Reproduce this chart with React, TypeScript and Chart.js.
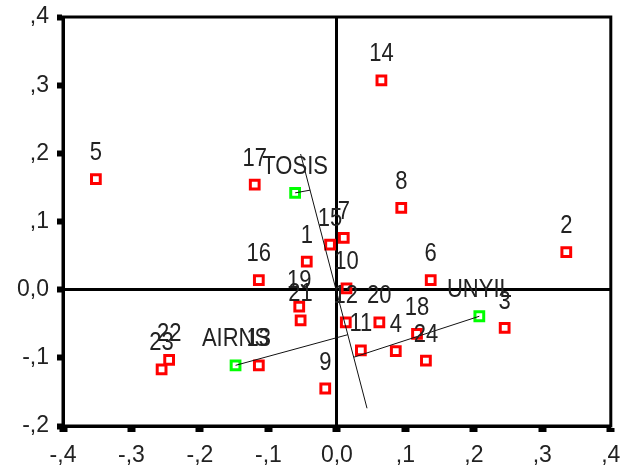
import React, { useEffect, useRef } from 'react';
import { Chart, registerables } from 'chart.js';

Chart.register(...registerables);

// Object scores (cases)
const caseLabels = ['5', '17', '14', '8', '2', '15', '7', '1', '16', '10', '6', '19', '21', '12', '20', '18', '3', '11', '4', '24', '22', '23', '13', '9'];
const caseDim1 = [-0.352, -0.120, 0.065, 0.094, 0.335, -0.010, 0.010, -0.044, -0.114, 0.014, 0.137, -0.055, -0.053, 0.013, 0.062, 0.117, 0.245, 0.035, 0.086, 0.130, -0.245, -0.256, -0.114, -0.017];
const caseDim2 = [0.162, 0.154, 0.307, 0.120, 0.055, 0.066, 0.076, 0.041, 0.014, 0.002, 0.014, -0.025, -0.045, -0.048, -0.048, -0.065, -0.056, -0.089, -0.090, -0.104, -0.103, -0.117, -0.111, -0.145];

// Variable points
const varLabels = ['TOSIS', 'AIRNS', 'UNYIL'];
const varDim1 = [-0.061, -0.148, 0.208];
const varDim2 = [0.142, -0.111, -0.039];

// Axis line and projection feet
const axisLineDim1 = [-0.053, 0.044];
const axisLineDim2 = [0.199, -0.174];
const footDim1 = [-0.039, 0.016, 0.025];
const footDim2 = [0.146, -0.066, -0.099];

// Tick labels
const xTickLabels = ['-,4', '-,3', '-,2', '-,1', '0,0', ',1', ',2', ',3', ',4'];
const yTickLabels = ['-,2', '-,1', '0,0', ',1', ',2', ',3', ',4'];

const FONT = '"Liberation Sans", Arial, sans-serif';

const labelPlugin = {
  id: 'pointTextLabels',
  afterDatasetsDraw(chart: any) {
    const ctx = chart.ctx;
    chart.data.datasets.forEach((ds: any, di: number) => {
      const labels: string[] | undefined = ds.textLabels;
      if (!labels) return;
      const meta = chart.getDatasetMeta(di);
      meta.data.forEach((el: any, i: number) => {
        ctx.save();
        ctx.translate(el.x, el.y - 19);
        ctx.scale(1, 1.15);
        ctx.font = `22px ${FONT}`;
        ctx.fillStyle = '#222';
        ctx.textAlign = 'center';
        ctx.textBaseline = 'alphabetic';
        ctx.fillText(labels[i], 0, 0);
        ctx.restore();
      });
    });
  },
};

const framePlugin = {
  id: 'frame',
  beforeDatasetsDraw(chart: any) {
    const { ctx, chartArea } = chart;
    ctx.save();
    ctx.strokeStyle = '#000';
    ctx.lineWidth = 3;
    ctx.strokeRect(chartArea.left, chartArea.top, chartArea.right - chartArea.left, chartArea.bottom - chartArea.top);
    ctx.restore();
  },
};

export default function App() {
  const canvasRef = useRef<HTMLCanvasElement | null>(null);

  useEffect(() => {
    if (!canvasRef.current) return;
    const lineStyle = {
      showLine: true,
      borderColor: '#111',
      borderWidth: 1,
      pointRadius: 0,
      pointHoverRadius: 0,
      fill: false,
    };
    const projections = varLabels.map((name, i) => ({
      label: name + ' projection',
      data: [
        { x: varDim1[i], y: varDim2[i] },
        { x: footDim1[i], y: footDim2[i] },
      ],
      ...lineStyle,
    }));
    const zeroGrid = (c: any) => (c.tick && Math.abs(c.tick.value) < 1e-9 ? '#000' : 'rgba(0,0,0,0)');
    const zeroWidth = (c: any) => (c.tick && Math.abs(c.tick.value) < 1e-9 ? 3 : 1);

    const chart = new Chart(canvasRef.current, {
      type: 'scatter',
      data: {
        datasets: [
          {
            label: 'axis',
            data: axisLineDim1.map((x, i) => ({ x, y: axisLineDim2[i] })),
            ...lineStyle,
          },
          ...projections,
          {
            label: 'variables',
            data: varDim1.map((x, i) => ({ x, y: varDim2[i] })),
            textLabels: varLabels,
            pointStyle: 'rect',
            pointRadius: 6.2,
            pointBorderWidth: 3,
            pointBackgroundColor: 'rgba(255,255,255,0)',
            pointBorderColor: '#00ff00',
            showLine: false,
          } as any,
          {
            label: 'cases',
            data: caseDim1.map((x, i) => ({ x, y: caseDim2[i] })),
            textLabels: caseLabels,
            pointStyle: 'rect',
            pointRadius: 6.2,
            pointBorderWidth: 3,
            pointBackgroundColor: 'rgba(255,255,255,0)',
            pointBorderColor: '#ff0000',
            showLine: false,
          } as any,
        ],
      },
      options: {
        responsive: false,
        animation: false,
        devicePixelRatio: 1,
        layout: { padding: { top: 17, right: 9, left: 0, bottom: 0 } },
        plugins: {
          legend: { display: false },
          tooltip: { enabled: false },
        },
        scales: {
          x: {
            type: 'linear',
            min: -0.4,
            max: 0.4,
            afterFit: (s: any) => {
              s.height = 44;
              s.paddingLeft = 0;
              s.paddingRight = 0;
            },
            ticks: {
              stepSize: 0.1,
              padding: 10,
              color: '#222',
              font: { family: FONT, size: 23 },
              maxRotation: 0,
              autoSkip: false,
              callback: (_v: any, i: number) => xTickLabels[i],
            },
            grid: {
              display: true,
              drawOnChartArea: true,
              drawTicks: true,
              tickLength: 6,
              tickWidth: 8,
              tickColor: '#000',
              color: zeroGrid,
              lineWidth: zeroWidth,
            },
            border: { display: true, color: '#000', width: 3 },
          },
          y: {
            type: 'linear',
            min: -0.2,
            max: 0.4,
            afterFit: (s: any) => {
              s.width = 63;
              s.paddingTop = 0;
              s.paddingBottom = 0;
            },
            ticks: {
              stepSize: 0.1,
              padding: 8,
              color: '#222',
              font: { family: FONT, size: 23 },
              autoSkip: false,
              callback: (_v: any, i: number) => yTickLabels[i],
            },
            grid: {
              display: true,
              drawOnChartArea: true,
              drawTicks: true,
              tickLength: 6,
              tickWidth: 6,
              tickColor: '#000',
              color: zeroGrid,
              lineWidth: zeroWidth,
            },
            border: { display: true, color: '#000', width: 3 },
          },
        },
      } as any,
      plugins: [framePlugin, labelPlugin],
    });
    return () => chart.destroy();
  }, []);

  return (
    <div style={{ position: 'fixed', left: 0, top: 0, width: 620, height: 470, background: '#fff' }}>
      <canvas ref={canvasRef} width={620} height={470} style={{ display: 'block' }} />
    </div>
  );
}
